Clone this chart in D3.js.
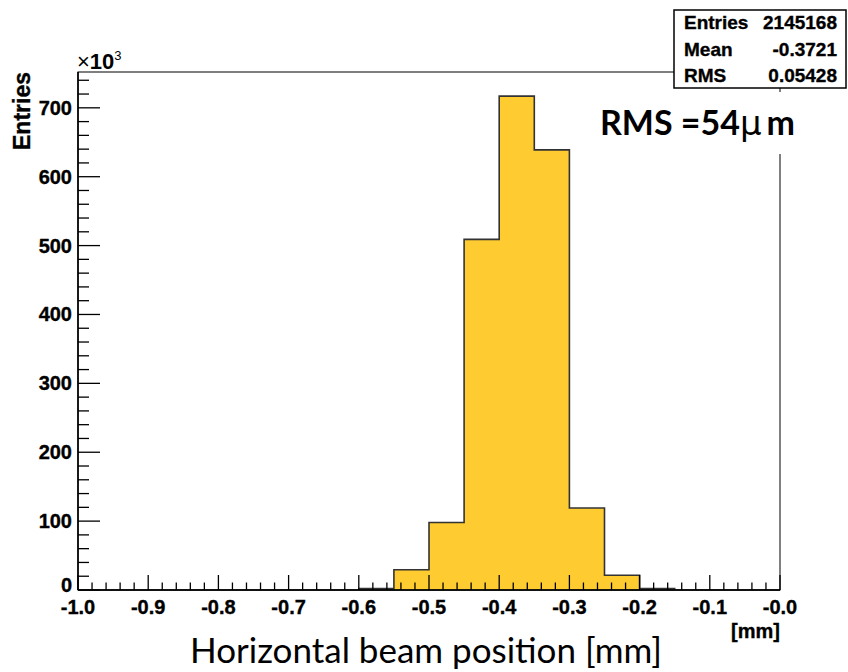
<!DOCTYPE html>
<html>
<head>
<meta charset="utf-8">
<script src="https://cdn.jsdelivr.net/npm/d3@7"></script>
<style>
  body { margin: 0; background: #fff; }
  text { font-family: "Liberation Sans", Arial, sans-serif; }
  .root-lbl { font-weight: bold; stroke: #000; stroke-width: 0.35px; }
</style>
</head>
<body>
<div id="chart"></div>
<script>
// Histogram bins (lower edge, mm) and contents (x10^3 entries)
const binLow = [-1.0, -0.95, -0.9, -0.85, -0.8, -0.75, -0.7, -0.65, -0.6, -0.55,
                -0.5, -0.45, -0.4, -0.35, -0.3, -0.25, -0.2, -0.15, -0.1, -0.05];
const counts = [0, 0, 0, 0, 0, 0, 0, 0, 2, 29.5,
                98, 509, 717, 639, 119, 21.5, 2, 0, 0, 0];
const binWidth = 0.05;

const xTicks = [-1.0, -0.9, -0.8, -0.7, -0.6, -0.5, -0.4, -0.3, -0.2, -0.1, 0.0];
const xTickLabels = ["-1.0", "-0.9", "-0.8", "-0.7", "-0.6", "-0.5", "-0.4", "-0.3", "-0.2", "-0.1", "-0.0"];
const yTicks = [0, 100, 200, 300, 400, 500, 600, 700];

const statNames = ["Entries", "Mean", "RMS"];
const statValues = ["2145168", "-0.3721", "0.05428"];

const W = 848, H = 672;
const frame = {left: 78, right: 780, top: 72, bottom: 590};

const svg = d3.select("#chart").append("svg")
    .attr("width", W)
    .attr("height", H);

const x = d3.scaleLinear().domain([-1.0, 0.0]).range([frame.left, frame.right]);
const y = d3.scaleLinear().domain([0, 752]).range([frame.bottom, frame.top]);

// frame
svg.append("rect")
    .attr("x", frame.left).attr("y", frame.top)
    .attr("width", frame.right - frame.left)
    .attr("height", frame.bottom - frame.top)
    .attr("fill", "none")
    .attr("stroke", "#000")
    .attr("stroke-width", 1);

// histogram as one filled step path
const pts = [[x(binLow[0]), y(0)]];
binLow.forEach((b, i) => {
    pts.push([x(b), y(counts[i])]);
    pts.push([x(b + binWidth), y(counts[i])]);
});
pts.push([x(binLow[binLow.length - 1] + binWidth), y(0)]);
svg.append("path")
    .attr("d", d3.line()(pts) + "Z")
    .attr("fill", "#fecb31")
    .attr("stroke", "#333")
    .attr("stroke-width", 1.6);

// x axis: ticks inside the frame, every 0.02
const xMinor = d3.range(0, 51).map(i => -1.0 + i * 0.02);
svg.append("g")
  .selectAll("line")
  .data(xMinor)
  .enter()
  .append("line")
  .attr("x1", d => x(d)).attr("x2", d => x(d))
  .attr("y1", frame.bottom)
  .attr("y2", (d, i) => frame.bottom - (i % 5 === 0 ? 15 : 7.5))
  .attr("stroke", "#000")
  .attr("stroke-width", 1.3);

svg.append("line")
    .attr("x1", frame.left).attr("x2", frame.right)
    .attr("y1", frame.bottom).attr("y2", frame.bottom)
    .attr("stroke", "#000").attr("stroke-width", 1.6);

svg.append("g")
  .selectAll("text")
  .data(xTicks)
  .enter()
  .append("text")
  .attr("class", "root-lbl")
  .attr("x", d => x(d))
  .attr("y", 614)
  .attr("text-anchor", "middle")
  .style("font-size", "20px")
  .text((d, i) => xTickLabels[i]);

svg.append("text")
    .attr("class", "root-lbl")
    .attr("x", frame.right)
    .attr("y", 638)
    .attr("text-anchor", "end")
    .style("font-size", "20px")
    .text("[mm]");

// y axis: ticks every 20
const yMinor = d3.range(0, 38).map(i => i * 20);
svg.append("g")
  .selectAll("line")
  .data(yMinor)
  .enter()
  .append("line")
  .attr("y1", d => y(d)).attr("y2", d => y(d))
  .attr("x1", frame.left)
  .attr("x2", d => frame.left + (d % 100 === 0 ? 22 : 11))
  .attr("stroke", "#000")
  .attr("stroke-width", 1.3);

svg.append("line")
    .attr("x1", frame.left).attr("x2", frame.left)
    .attr("y1", frame.top).attr("y2", frame.bottom)
    .attr("stroke", "#000").attr("stroke-width", 1.6);

svg.append("g")
  .selectAll("text")
  .data(yTicks)
  .enter()
  .append("text")
  .attr("class", "root-lbl")
  .attr("x", 72)
  .attr("y", d => y(d) + (d === 0 ? 2 : 7))
  .attr("text-anchor", "end")
  .style("font-size", "20px")
  .text(d => d);

// x10^3 multiplier
const mult = svg.append("text")
    .attr("x", 77)
    .attr("y", 69)
    .style("font-size", "22px");
mult.append("tspan").text("\u00d7");
mult.append("tspan").style("font-weight", "bold").text("10");
mult.append("tspan").attr("dy", -9).style("font-size", "13px").text("3");

// y title
svg.append("text")
    .attr("class", "root-lbl")
    .attr("transform", "translate(30,111) rotate(-90)")
    .attr("text-anchor", "middle")
    .style("font-size", "23px")
    .text("Entries");

// stats box
svg.append("rect")
    .attr("x", 674).attr("y", 10)
    .attr("width", 172).attr("height", 78)
    .attr("fill", "#fff")
    .attr("stroke", "#000")
    .attr("stroke-width", 1.5);

statNames.forEach((n, i) => {
    svg.append("text")
        .attr("class", "root-lbl")
        .attr("x", 684).attr("y", 29 + i * 26.5)
        .style("font-size", "19px")
        .text(n);
    svg.append("text")
        .attr("class", "root-lbl")
        .attr("x", 837).attr("y", 29 + i * 26.5)
        .attr("text-anchor", "end")
        .style("font-size", "19px")
        .text(statValues[i]);
});

// fit a text element to a target width by adjusting its font size
function fitWidth(sel, target) {
    const fs = parseFloat(sel.style("font-size"));
    const w = sel.node().getComputedTextLength();
    sel.style("font-size", (fs * target / w) + "px");
}

// RMS annotation on a white text box
svg.append("rect")
    .attr("x", 590).attr("y", 92)
    .attr("width", 210).attr("height", 62)
    .attr("fill", "#fff");

const rms = svg.append("text")
    .attr("x", 600)
    .attr("y", 135)
    .style("font-family", "Lato, 'Open Sans', sans-serif")
    .style("font-weight", "bold")
    .style("font-size", "32px");
rms.append("tspan").text("RMS =54");
rms.append("tspan").style("font-family", "'DejaVu Sans', sans-serif").style("font-weight", "normal").text("\u03bc");
rms.append("tspan").attr("dx", 5).text("m");
fitWidth(rms, 190);

// x title
const xt = svg.append("text")
    .attr("x", 190)
    .attr("y", 663)
    .style("font-family", "Lato, 'Open Sans', sans-serif")
    .style("font-size", "32px")
    .text("Horizontal beam position [mm]");
fitWidth(xt, 472);
</script>
</body>
</html>
